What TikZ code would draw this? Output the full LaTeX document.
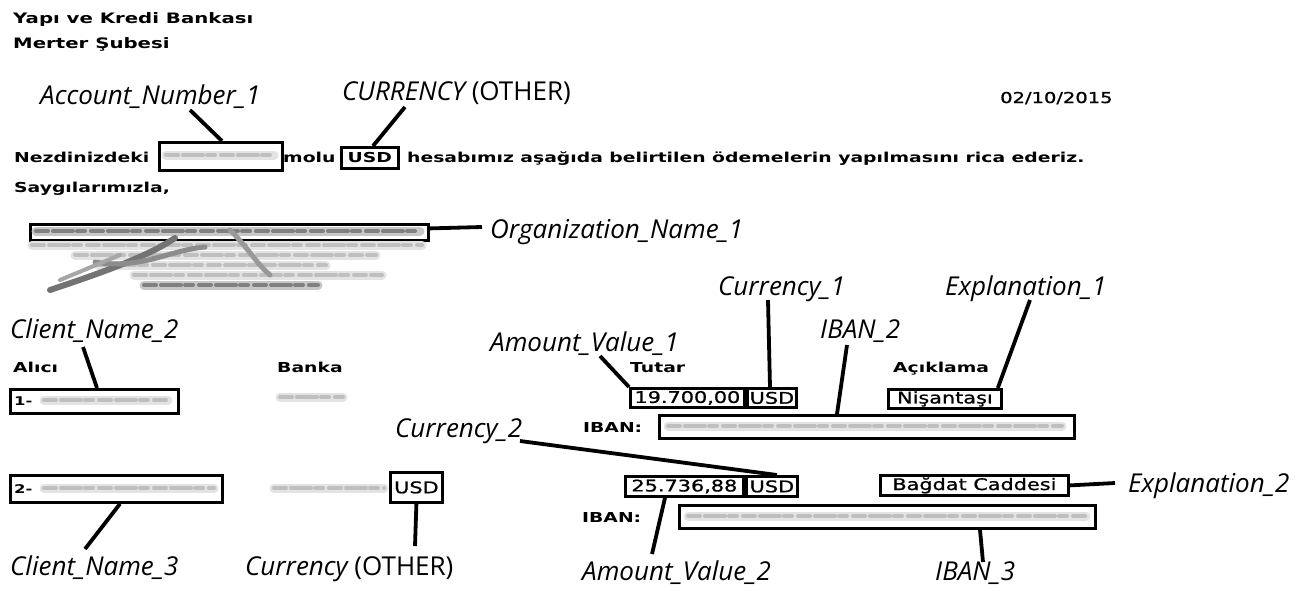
\documentclass[tikz,border=0pt]{standalone}
\usepackage{fontspec}
\setmainfont{DejaVu Sans}
\newfontfamily\labfont{Open Sans}
\newfontfamily\docfont[FakeStretch=1.37]{DejaVu Sans}
\newfontfamily\widefont[FakeStretch=1.45]{DejaVu Sans}
\newfontfamily\bxfont[FakeStretch=1.3,FakeBold=1]{DejaVu Sans}
\usetikzlibrary{calc}
\newcommand\mysmear[4][gray]{%
  \draw[line width=9pt, #1!22, line cap=round] (#2,#4) -- (#3,#4);
  \draw[line width=4pt, #1!50, line cap=round, dash pattern=on 12pt off 5pt on 20pt off 4pt on 8pt off 6pt] (#2,#4) -- (#3,#4);}
\begin{document}
\begin{tikzpicture}[x=1pt,y=-1pt,
  lab/.style={font=\labfont\fontsize{26}{26}\selectfont\itshape, inner sep=0pt, anchor=base west},
  doc/.style={font=\docfont\bfseries\fontsize{13.7}{14}\selectfont, inner sep=0pt, anchor=base west},
  bx/.style={draw, line width=2.8pt, inner sep=0pt, anchor=north west, font=\bxfont\fontsize{16}{16}\selectfont},
  conn/.style={line width=3.8pt, black}]
\fill[white] (0,0) rectangle (1299,590);
\path[use as bounding box] (0,0) rectangle (1299,590);

% document text
\node[doc, font=\docfont\bfseries\fontsize{14.4}{15}\selectfont] (t1) at (13,23) {Yapı ve Kredi Bankası};
\node[doc, font=\docfont\bfseries\fontsize{14.4}{15}\selectfont] (t2) at (13,48) {Merter Şubesi};
\node[inner sep=0pt, anchor=base west, font=\bxfont\fontsize{15}{15}\selectfont] (date) at (1000,103) {02/10/2015};
\node[doc] (nez) at (14,162) {Nezdinizdeki};
\node[bx, minimum width=123, minimum height=28] (accbox) at (158,141) {};
\mysmear{166}{274}{155}
\node[doc] (molu) at (283,162) {molu};
\node[bx, minimum width=57, minimum height=21, font=\docfont\bfseries\fontsize{13.7}{14}\selectfont] (usd0) at (340,146) {USD};
\node[doc] (hes) at (407,162) {hesabımız aşağıda belirtilen ödemelerin yapılmasını rica ederiz.};
\node[doc] (say) at (14,192) {Saygılarımızla,};

% organization + signature
\node[bx, minimum width=398, minimum height=16] (orgbox) at (29,223) {};
\mysmear[black]{36}{420}{231}
\mysmear{32}{422}{245}
\mysmear{75}{376}{255}
\mysmear{98}{326}{265}
\mysmear{134}{382}{275}
\mysmear[black]{144}{318}{285}
\draw[line width=6pt, black!55, line cap=round] (50,290) .. controls (110,270) and (150,255) .. (175,238);
\draw[line width=5pt, black!45, line cap=round] (95,262) .. controls (140,270) and (170,250) .. (205,247);
\draw[line width=5pt, black!40, line cap=round] (230,230) .. controls (250,250) and (255,262) .. (270,275);
\draw[line width=4pt, black!35, line cap=round] (60,280) -- (120,255);

% table headers
\node[doc] (alici) at (13,372) {Alıcı};
\node[doc] (banka) at (277,372) {Banka};
\node[doc] (tutar) at (630,372) {Tutar};
\node[doc] (acik) at (893,372) {Açıklama};
\node[doc] (iban1l) at (583,432) {IBAN:};
\node[doc] (iban2l) at (582,522) {IBAN:};

% row 1
\node[bx, minimum width=168, minimum height=24] (cn1) at (9,388) {};
\node[doc, font=\docfont\bfseries\fontsize{12}{12}\selectfont] (one) at (14,405) {1-};
\mysmear{44}{168}{400}
\mysmear{280}{343}{397}
\node[bx, minimum width=114, minimum height=19] (amt1) at (629,387) {19.700,00};
\node[bx, minimum width=49, minimum height=19] (usd1) at (746,387) {USD};
\node[bx, minimum width=113, minimum height=19] (nis) at (887,388) {Nişantaşı};
\node[bx, minimum width=415, minimum height=23] (iban1) at (658,414) {};
\mysmear{668}{1062}{426}

% row 2
\node[bx, minimum width=212, minimum height=27] (cn2) at (9,474) {};
\node[doc, font=\docfont\bfseries\fontsize{12}{12}\selectfont] (two) at (14,493) {2-};
\mysmear{44}{214}{488}
\mysmear{274}{384}{488}
\node[bx, minimum width=52, minimum height=30] (usd3) at (389,471) {USD};
\node[bx, minimum width=118, minimum height=20] (amt2) at (624,475) {25.736,88};
\node[bx, minimum width=51, minimum height=20] (usd2) at (745,475) {USD};
\node[bx, minimum width=188, minimum height=20] (bag) at (879,474) {Bağdat Caddesi};
\node[bx, minimum width=416, minimum height=23] (iban2) at (678,504) {};
\mysmear{688}{1086}{516}

% annotation labels
\node[lab] (lacc) at (40,104) {Account\_Number\_1};
\node[lab] (lcur0) at (342,100) {CURRENCY \upshape(OTHER)};
\node[lab] (lorg) at (490,238) {Organization\_Name\_1};
\node[lab] (lcn2) at (10,338) {Client\_Name\_2};
\node[lab] (lamt1) at (490,351) {Amount\_Value\_1};
\node[lab] (lcur1) at (718,295) {Currency\_1};
\node[lab] (lexp1) at (945,295) {Explanation\_1};
\node[lab] (liban2) at (820,338) {IBAN\_2};
\node[lab] (lcur2) at (395,437) {Currency\_2};
\node[lab] (lexp2) at (1128,492) {Explanation\_2};
\node[lab] (lcn3) at (10,575) {Client\_Name\_3};
\node[lab] (lcur3) at (245,575) {Currency \upshape(OTHER)};
\node[lab] (lamt2) at (582,580) {Amount\_Value\_2};
\node[lab] (liban3) at (935,580) {IBAN\_3};

% connector ends near labels
\coordinate (cA) at (190,110);
\coordinate (cB) at (405,107);
\coordinate (cC) at (482,227);
\coordinate (cD) at (83,347);
\coordinate (cE) at (600,356);
\coordinate (cF) at (768,300);
\coordinate (cG) at (847,345);
\coordinate (cH) at (1030,300);
\coordinate (cI) at (520,441);
\coordinate (cJ) at (1115,483);
\coordinate (cK) at (85,549);
\coordinate (cL) at (415,546);
\coordinate (cM) at (652,554);
\coordinate (cN) at (983,562);

% connectors
\draw[conn] (cA) -- ($(accbox.north west)+(64,0)$);
\draw[conn] (cB) -- ($(usd0.north west)+(33,0)$);
\draw[conn] ($(orgbox.east)+(0,-4)$) -- (cC);
\draw[conn] (cD) -- ($(cn1.north west)+(88,0)$);
\draw[conn] (cE) -- (amt1.north west);
\draw[conn] (cF) -- ($(usd1.north west)+(24,0)$);
\draw[conn] (cG) -- ($(iban1.north west)+(179,0)$);
\draw[conn] (cH) -- ($(nis.north east)+(-5,0)$);
\draw[conn] (cI) -- ($(usd2.north west)+(32,0)$);
\draw[conn] (bag.east) -- (cJ);
\draw[conn] ($(cn2.south west)+(111,0)$) -- (cK);
\draw[conn] (usd3.south) -- (cL);
\draw[conn] ($(amt2.south west)+(41,0)$) -- (cM);
\draw[conn] ($(iban2.south west)+(302,0)$) -- (cN);
\end{tikzpicture}
\end{document}
